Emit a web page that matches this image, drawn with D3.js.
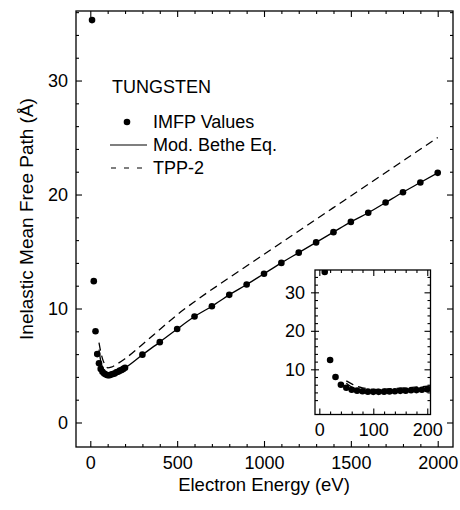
<!DOCTYPE html>
<html>
<head>
<meta charset="utf-8">
<script src="https://cdn.jsdelivr.net/npm/d3@7"></script>
<style>
  body { margin: 0; background: #fff; }
  svg { display: block; font-family: "Liberation Sans", Arial, sans-serif; }
</style>
</head>
<body>
<svg width="460" height="510"></svg>
<script>
// IMFP values (eV, Angstrom)
const energy = [10, 20, 30, 40, 50, 60, 70, 80, 90, 100, 110, 120, 130, 140, 150, 160, 170, 180, 190, 200,
  300, 400, 500, 600, 700, 800, 900, 1000, 1100, 1200, 1300, 1400, 1500, 1600, 1700, 1800, 1900, 2000];
const imfp = [35.3, 12.4, 8.0, 6.0, 5.2, 4.7, 4.45, 4.3, 4.2, 4.15, 4.15, 4.2, 4.25, 4.3, 4.4, 4.45, 4.55, 4.6, 4.7, 4.8,
  5.95, 7.05, 8.2, 9.3, 10.2, 11.2, 12.1, 13.05, 14.0, 14.9, 15.8, 16.7, 17.6, 18.4, 19.3, 20.2, 21.05, 21.9];

// Mod. Bethe equation curve
const betheE = [50, 60, 70, 80, 90, 100, 120, 150, 200, 300, 400, 500, 600, 700, 800, 900, 1000,
  1100, 1200, 1300, 1400, 1500, 1600, 1700, 1800, 1900, 2000];
const betheV = [6.4, 5.4, 4.85, 4.5, 4.3, 4.2, 4.2, 4.4, 4.8, 5.95, 7.05, 8.2, 9.3, 10.2, 11.2, 12.1, 13.05,
  14.0, 14.9, 15.8, 16.7, 17.6, 18.4, 19.3, 20.2, 21.05, 21.9];

// TPP-2 curve
const tppE = [50, 60, 70, 80, 90, 100, 120, 150, 200, 300, 400, 500, 600, 800, 1000, 1200, 1400, 1600, 1800, 2000];
const tppV = [7.0, 6.2, 5.6, 5.2, 4.95, 4.8, 4.85, 5.1, 5.6, 6.85, 8.15, 9.45, 10.6, 12.7, 14.75, 16.8, 18.85, 20.9, 22.95, 25.0];

const xTicks = [0, 500, 1000, 1500, 2000];
const yTicks = [0, 10, 20, 30];
const insetXTicks = [0, 100, 200];
const insetYTicks = [10, 20, 30];

const svg = d3.select("svg");

const x = d3.scaleLinear().domain([-82.3, 2088]).range([76, 453]);
const y = d3.scaleLinear().domain([-2.15, 36.1]).range([447, 11]);

const pts = energy.map((e, i) => ({ e, v: imfp[i] }));
const bethe = betheE.map((e, i) => ({ e, v: betheV[i] }));
const tpp = tppE.map((e, i) => ({ e, v: tppV[i] }));

function drawPanel(g, xs, ys, opt) {
  const [x0, x1] = xs.range();
  const [y0, y1] = ys.range();
  const fmt = d3.format("d");
  g.append("rect").attr("x", x0).attr("y", y1).attr("width", x1 - x0).attr("height", y0 - y1)
    .attr("fill", "#fff").attr("stroke", "none");

  // minor ticks, all four sides
  g.append("g").attr("transform", `translate(0,${y0})`)
    .call(d3.axisBottom(xs).tickValues(opt.xMinor).tickSize(-3).tickFormat(""));
  g.append("g").attr("transform", `translate(0,${y1})`)
    .call(d3.axisTop(xs).tickValues(opt.xMinor).tickSize(-3).tickFormat(""));
  g.append("g").attr("transform", `translate(${x0},0)`)
    .call(d3.axisLeft(ys).tickValues(opt.yMinor).tickSize(-3).tickFormat(""));
  g.append("g").attr("transform", `translate(${x1},0)`)
    .call(d3.axisRight(ys).tickValues(opt.yMinor).tickSize(-3).tickFormat(""));

  // major ticks with labels
  g.append("g").attr("transform", `translate(0,${y0})`)
    .call(d3.axisBottom(xs).tickValues(opt.xMajor).tickSize(-6).tickPadding(opt.xPad).tickFormat(fmt))
    .call(a => a.selectAll("text").attr("font-size", opt.font).attr("fill", "#000"));
  g.append("g").attr("transform", `translate(0,${y1})`)
    .call(d3.axisTop(xs).tickValues(opt.xMajor).tickSize(-6).tickFormat(""));
  g.append("g").attr("transform", `translate(${x0},0)`)
    .call(d3.axisLeft(ys).tickValues(opt.yMajor).tickSize(opt.yOut ? 4 : -6).tickPadding(opt.yPad).tickFormat(fmt))
    .call(a => a.selectAll("text").attr("font-size", opt.font).attr("fill", "#000"));
  if (opt.yOut) {
    g.append("g").attr("transform", `translate(${x0},0)`)
      .call(d3.axisLeft(ys).tickValues(opt.yMajor).tickSize(-4).tickFormat(""));
  }
  g.append("g").attr("transform", `translate(${x1},0)`)
    .call(d3.axisRight(ys).tickValues(opt.yMajor).tickSize(-6).tickFormat(""));

  g.selectAll(".tick line").attr("stroke", "#000").attr("stroke-width", 1.1);
  g.selectAll(".domain").remove();

  g.append("clipPath").attr("id", opt.id).append("rect")
    .attr("x", x0).attr("y", y1).attr("width", x1 - x0).attr("height", y0 - y1);
  const body = g.append("g").attr("clip-path", `url(#${opt.id})`);

  const line = d3.line().x(d => xs(d.e)).y(d => ys(d.v)).curve(d3.curveMonotoneX);
  body.append("path").datum(tpp.filter(d => d.e <= xs.domain()[1] + 100)).attr("d", line)
    .attr("fill", "none").attr("stroke", "#000").attr("stroke-width", 1.3).attr("stroke-dasharray", "8,5");
  body.append("path").datum(bethe.filter(d => d.e <= xs.domain()[1] + 100)).attr("d", line)
    .attr("fill", "none").attr("stroke", "#000").attr("stroke-width", 1.3);
  body.selectAll("circle").data(pts.filter(d => d.e <= xs.domain()[1] + 20)).join("circle")
    .attr("cx", d => xs(d.e)).attr("cy", d => ys(d.v)).attr("r", 3.3).attr("fill", "#000");

  g.append("rect").attr("x", x0).attr("y", y1).attr("width", x1 - x0).attr("height", y0 - y1)
    .attr("fill", "none").attr("stroke", "#000").attr("stroke-width", 1.3);
}

// main panel
const main = svg.append("g");
drawPanel(main, x, y, {
  id: "clipMain",
  xMajor: xTicks, xMinor: d3.range(0, 2001, 100).filter(v => v % 500),
  yMajor: yTicks, yMinor: d3.range(0, 37, 2).filter(v => v % 10),
  xPad: 9, yPad: 8, font: 18, yOut: false
});

// axis titles
svg.append("text").attr("x", 264).attr("y", 491).attr("text-anchor", "middle")
  .attr("font-size", 18.5).text("Electron Energy (eV)");
svg.append("text").attr("transform", "translate(33,219) rotate(-90)").attr("text-anchor", "middle")
  .attr("font-size", 19).text("Inelastic Mean Free Path (Å)");

// legend
const leg = svg.append("g").attr("font-size", 18);
leg.append("text").attr("x", 112).attr("y", 93).text("TUNGSTEN");
leg.append("circle").attr("cx", 127).attr("cy", 122).attr("r", 3.3).attr("fill", "#000");
leg.append("text").attr("x", 153).attr("y", 128).text("IMFP Values");
leg.append("line").attr("x1", 110).attr("x2", 147).attr("y1", 145).attr("y2", 145)
  .attr("stroke", "#000").attr("stroke-width", 1.2);
leg.append("text").attr("x", 153).attr("y", 151).text("Mod. Bethe Eq.");
leg.append("line").attr("x1", 111).attr("x2", 144).attr("y1", 168).attr("y2", 168)
  .attr("stroke", "#000").attr("stroke-width", 1.2).attr("stroke-dasharray", "5,8");
leg.append("text").attr("x", 153).attr("y", 174).text("TPP-2");

// inset
const xi = d3.scaleLinear().domain([-8, 206]).range([315, 430.5]);
const yi = d3.scaleLinear().domain([-1.74, 35.8]).range([414.5, 270]);
const inset = svg.append("g");
drawPanel(inset, xi, yi, {
  id: "clipInset",
  xMajor: insetXTicks, xMinor: d3.range(0, 201, 20).filter(v => v % 100),
  yMajor: insetYTicks, yMinor: d3.range(0, 36, 2).filter(v => v % 10),
  xPad: 9, yPad: 6, font: 18, yOut: true
});
</script>
</body>
</html>
